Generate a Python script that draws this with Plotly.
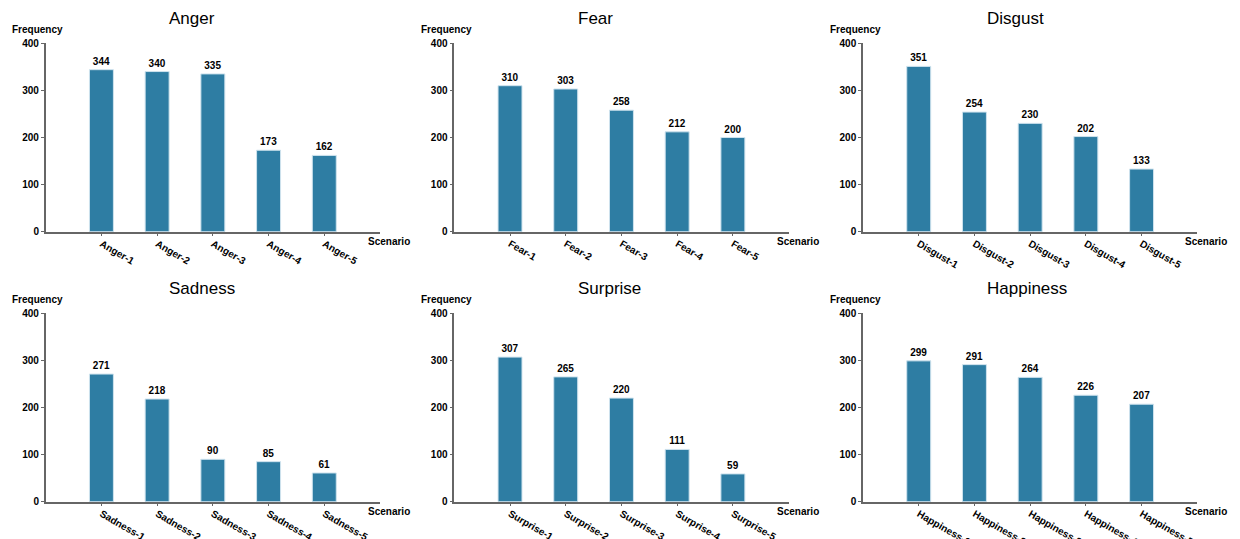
import plotly.graph_objects as go

emotions = ["Anger", "Fear", "Disgust", "Sadness", "Surprise", "Happiness"]
anger = [344, 340, 335, 173, 162]
fear = [310, 303, 258, 212, 200]
disgust = [351, 254, 230, 202, 133]
sadness = [271, 218, 90, 85, 61]
surprise = [307, 265, 220, 111, 59]
happiness = [299, 291, 264, 226, 207]
values = [anger, fear, disgust, sadness, surprise, happiness]
y_ticks = [0, 100, 200, 300, 400]

W, H = 1240, 539
BAR = "#2e7da3"
AXC = "#666666"
FONT = "Arial, Liberation Sans, sans-serif"

col_left = [45.7, 454.3, 863.0]
col_w = 334.3
row_top = [43.3, 313.3]
row_h = 188.4

fig = go.Figure()
layout = dict(
    width=W, height=H,
    margin=dict(l=0, r=0, t=0, b=0, autoexpand=False),
    paper_bgcolor="white", plot_bgcolor="white",
    showlegend=False,
    font=dict(family=FONT, color="black"),
    annotations=[],
)

for i, (emo, vals) in enumerate(zip(emotions, values)):
    r, c = divmod(i, 3)
    n = i + 1
    xa = "x" if n == 1 else f"x{n}"
    ya = "y" if n == 1 else f"y{n}"
    cats = [f"{emo}-{k}" for k in range(1, len(vals) + 1)]
    fig.add_trace(go.Bar(
        x=cats, y=vals, xaxis=xa, yaxis=ya,
        width=0.43,
        marker=dict(color=BAR, line=dict(color="#cfe3ee", width=1)),
        text=[str(v) for v in vals], textposition="outside",
        textfont=dict(family=FONT, size=10, color="black", weight="bold"),
        constraintext="none", cliponaxis=False,
    ))
    x0 = col_left[c] / W
    x1 = (col_left[c] + col_w) / W
    y1 = 1 - row_top[r] / H
    y0 = 1 - (row_top[r] + row_h) / H
    layout[f"xaxis{'' if n == 1 else n}"] = dict(
        domain=[x0, x1], anchor=ya, type="category", automargin=False,
        range=[-1, len(vals)], showgrid=False, zeroline=False,
        showline=True, linecolor=AXC, linewidth=1.5,
        ticks="outside", ticklen=3, tickcolor=AXC, tickwidth=1,
        tickangle=30, ticklabelstandoff=-2,
        tickfont=dict(family=FONT, size=10, color="black", weight="bold"),
        fixedrange=True,
    )
    layout[f"yaxis{'' if n == 1 else n}"] = dict(
        domain=[y0, y1], anchor=xa, range=[0, 400], automargin=False,
        tickvals=y_ticks, showgrid=False, zeroline=False,
        showline=True, linecolor=AXC, linewidth=1.5,
        ticks="outside", ticklen=3, tickcolor=AXC, tickwidth=1,
        tickfont=dict(family=FONT, size=10, color="black", weight="bold"),
        fixedrange=True,
    )
    xd = f"{xa} domain"
    yd = f"{ya} domain"
    layout["annotations"] += [
        dict(text=emo, xref=xd, yref=yd, x=0, y=1, xanchor="left", yanchor="middle",
             xshift=121.5, yshift=25, showarrow=False,
             font=dict(family=FONT, size=17, color="black")),
        dict(text="Frequency", xref=xd, yref=yd, x=0, y=1, xanchor="center", yanchor="middle",
             xshift=-8, yshift=14, showarrow=False,
             font=dict(family=FONT, size=10, color="black", weight="bold")),
        dict(text="Scenario", xref=xd, yref=yd, x=1, y=0, xanchor="center", yanchor="middle",
             xshift=9, yshift=-9.5, showarrow=False,
             font=dict(family=FONT, size=10, color="black", weight="bold")),
    ]

fig.update_layout(**layout)
fig.write_html("out.html", config={"displayModeBar": False},
               post_script="document.body.style.margin='0';document.body.style.overflow='hidden';")
